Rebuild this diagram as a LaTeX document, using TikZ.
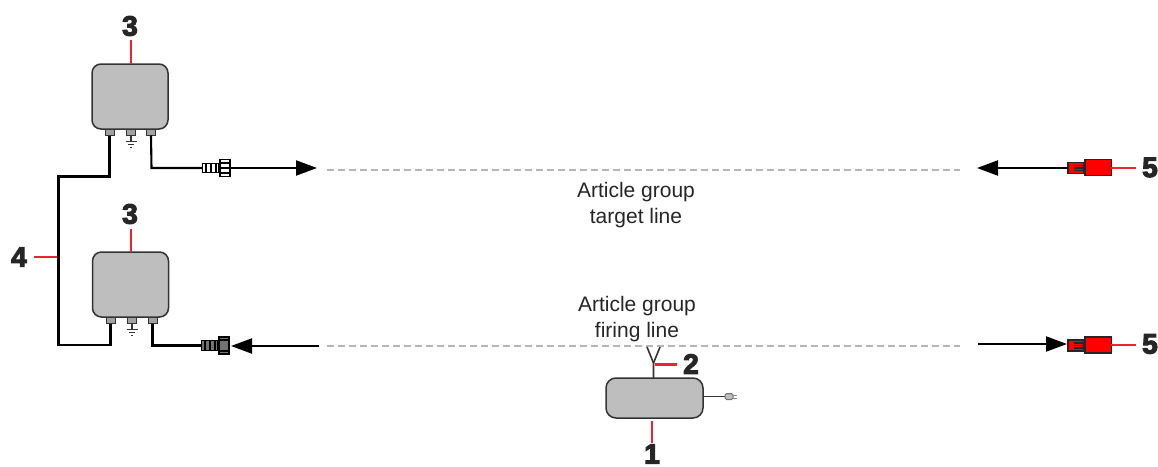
\documentclass[tikz,border=0pt]{standalone}
\usepackage{fontspec}
\setmainfont{Liberation Sans}
\newfontfamily\numfont[BoldFeatures={FakeBold=4}]{Liberation Sans}
\usetikzlibrary{arrows.meta}
\definecolor{boxgrey}{HTML}{BEBEBE}
\definecolor{edgegrey}{HTML}{333333}
\definecolor{dashgrey}{HTML}{B4B6B8}
\definecolor{leadred}{HTML}{EE2233}
\definecolor{textblack}{HTML}{262626}
\tikzset{
  x=1pt,y=-1pt,
  every node/.style={inner sep=0pt,outer sep=0pt},
  unitbox/.style={draw=edgegrey,fill=boxgrey,line width=1.5pt,rounded corners=9pt},
  portbox/.style={draw=edgegrey,fill=boxgrey!85!black,line width=1pt,minimum width=9pt,minimum height=6pt},
  wire/.style={draw=black,line width=2.1pt},
  thinwire/.style={draw=edgegrey,line width=1.6pt},
  arrowline/.style={draw=black,line width=2.1pt,-{Triangle[length=21pt,width=15pt]}},
  leader/.style={draw=leadred,line width=2.2pt},
  beam/.style={draw=dashgrey,line width=2pt,dash pattern=on 7pt off 4pt},
  numlabel/.style={font=\numfont\bfseries\fontsize{28}{28}\selectfont,text=textblack},
  caption/.style={font=\fontsize{21}{26.5}\selectfont,text=textblack,align=center},
  conbody/.style={draw=black,line width=1.3pt,minimum width=16pt,minimum height=9.5pt},
  connut/.style={draw=black,line width=1.3pt,minimum width=10pt,minimum height=17pt},
  redbig/.style={draw=black!85,fill=red,line width=1.5pt,minimum width=26.5pt,minimum height=16pt},
  redsmall/.style={draw=black!85,fill=red,line width=1.5pt,minimum width=16pt,minimum height=11pt},
}
\begin{document}
\begin{tikzpicture}
\useasboundingbox (0,0) rectangle (1158,466);
% beams
\coordinate (b1l) at (327,170); \coordinate (b1r) at (960,170);
\coordinate (b2l) at (327,346); \coordinate (b2r) at (960,346);
\draw[beam] (b1l) -- (b1r);
\draw[beam] (b2l) -- (b2r);
% units
\node[unitbox,minimum width=76pt,minimum height=65pt] (u1) at (130,96.5) {};
\node[unitbox,minimum width=76pt,minimum height=65pt] (u2) at (130.5,284.5) {};
\node[unitbox,minimum width=97pt,minimum height=40pt,rounded corners=10pt] (ctl) at (654.5,398) {};
% ports
\node[portbox] (p1a) at (109.5,132.5) {}; \node[portbox] (p1b) at (131,132.5) {}; \node[portbox] (p1c) at (151,132.5) {};
\node[portbox] (p2a) at (110.5,320.5) {}; \node[portbox] (p2b) at (132,320.5) {}; \node[portbox] (p2c) at (152.5,320.5) {};
% grounds
\foreach \u in {p1b,p2b}{
  \draw[edgegrey,line width=1.1pt] (\u.south) -- ++(0,6) ++(-5.5,0) -- ++(11,0) ++(-8.5,3) -- ++(6,0) ++(-4,3) -- ++(2,0);
}
% connectors, left side
\node[conbody,fill=white] (c1b) at (210.5,168) {};
\node[connut,fill=white] (c1n) at (225,168) {};
\node[conbody,fill=black!55] (c2b) at (209.5,345.5) {};
\node[connut,fill=black!55] (c2n) at (224,345.5) {};
\draw[black,line width=1.2pt] (206,163.5) -- (206,172.5) (211,163.5) -- (211,172.5) (216,163.5) -- (216,172.5)
      (220,163) -- (230,163) (220,173) -- (230,173) (220,168) -- (230,168);
\draw[black,line width=1.2pt] (205,341) -- (205,350) (210,341) -- (210,350) (215,341) -- (215,350)
      (219,340) -- (229,340) (219,351) -- (229,351);
% wires
\coordinate (w1) at (109.5,176.5); \coordinate (w2) at (58.5,176.5);
\coordinate (w3) at (58.5,345); \coordinate (w4) at (110.5,345);
\draw[wire,line join=miter] (p1a.south) -- (w1) -- (w2) -- (w3) -- (w4) -- (p2a.south);
\coordinate (w5) at (151.5,168); \coordinate (w6) at (152.5,345.5);
\draw[wire] (p1c.south) -- (w5) -- (c1b.west);
\draw[wire] (p2c.south) -- (w6) -- (c2b.west);
% arrows
\coordinate (t1) at (317,168); \coordinate (t2) at (231,346);
\coordinate (s2) at (319,346);
\draw[arrowline] (c1n.east) -- (t1);
\draw[arrowline] (s2) -- (t2);
% red plugs
\node[redbig] (r1b) at (1098,167.5) {};
\node[redsmall] (r1s) at (1076,168) {};
\node[redbig] (r2b) at (1098,345) {};
\node[redsmall] (r2s) at (1076,345.5) {};
\foreach \s in {r1s,r2s}{
  \draw[black!85,line width=1.1pt] ([xshift=-2pt,yshift=-2.5pt]\s.center) -- ([xshift=8pt,yshift=-2.5pt]\s.center)
     ([xshift=-2pt]\s.center) -- ([xshift=8pt]\s.center)
     ([xshift=-2pt,yshift=2.5pt]\s.center) -- ([xshift=8pt,yshift=2.5pt]\s.center);
}
\coordinate (t3) at (977,168);
\draw[arrowline] (r1s.west) -- (t3);
\coordinate (s4) at (978,344); \coordinate (t4) at (1067,344);
\draw[arrowline] (s4) -- (t4);
% antenna
\coordinate (ay) at (653.5,363); \coordinate (a1) at (647,347); \coordinate (a2) at (660,347);
\draw[thinwire] (ctl.north -| ay) -- (ay) -- (a1);
\draw[thinwire] (ay) -- (a2);
% mains plug
\coordinate (cordend) at (725,396.5);
\draw[edgegrey,line width=1.4pt] (cordend -| ctl.east) -- (cordend);
\node[draw=black!55,fill=boxgrey,line width=1pt,minimum width=8pt,minimum height=6pt,rounded corners=1.5pt] (plug) at (729,396.5) {};
\draw[black!45,line width=1pt] (plug.east) ++(0,-1.5) -- ++(4,0) ++(-4,3) -- ++(4,0);
% numbers
\node[numlabel] (n3a) at (130,26) {3};
\node[numlabel] (n3b) at (130,214) {3};
\node[numlabel] (n4) at (19,257) {4};
\node[numlabel] (n2) at (691,364) {2};
\node[numlabel] (n1) at (652,454) {1};
\node[numlabel] (n5a) at (1150,167.5) {5};
\node[numlabel] (n5b) at (1150,344) {5};
% leaders
\coordinate (l1) at (131,40); \coordinate (l2) at (131,229);
\coordinate (l3) at (34,257); \coordinate (l4) at (57,257);
\coordinate (l5) at (655,364.5); \coordinate (l6) at (677,364.5);
\coordinate (l7) at (652,421); \coordinate (l8) at (652,443);
\coordinate (l9) at (1136,168); \coordinate (l10) at (1136,345);
\draw[leader] (l1) -- (u1.north -| l1);
\draw[leader] (l2) -- (u2.north -| l2);
\draw[leader] (l3) -- (l4);
\draw[leader] (l5) -- (l6);
\draw[leader] (l7) -- (l8);
\draw[leader] (r1b.east |- l9) -- (l9);
\draw[leader] (r2b.east |- l10) -- (l10);
% captions
\node[caption] (cap1) at (636,205) {Article group\\target line};
\node[caption] (cap2) at (637,319) {Article group\\firing line};
\end{tikzpicture}
\end{document}
